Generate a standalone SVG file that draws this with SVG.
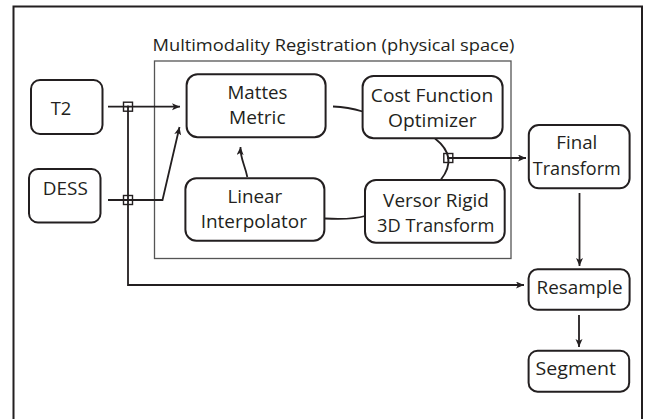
<svg xmlns="http://www.w3.org/2000/svg" width="646" height="419" viewBox="0 0 646 419">
<style>
.box{fill:#fff;stroke:#231f20;stroke-width:2}
.t{font-family:"Open Sans","Liberation Sans",sans-serif;font-size:17.5px;fill:#231f20;text-anchor:middle}
.title{font-family:"Open Sans","Liberation Sans",sans-serif;font-size:16px;fill:#231f20}
.c{fill:none;stroke:#231f20;stroke-width:1.8}
.j{fill:none;stroke:#231f20;stroke-width:1.4}
</style>
<defs>
<marker id="ah" markerUnits="userSpaceOnUse" markerWidth="10" markerHeight="8" refX="8" refY="3.5" orient="auto">
<path d="M0,0 L8,3.5 L0,7 L2,3.5 z" fill="#231f20"/>
</marker>
</defs>
<rect width="646" height="419" fill="#fff"/>
<path d="M13.5,419 V6.5 H642 V419" fill="none" stroke="#231f20" stroke-width="2"/>
<g id="registration">
<rect x="154.5" y="61" width="356.5" height="197.5" fill="none" stroke="#555" stroke-width="1.3"/>
<text class="title" x="152.5" y="50.5" textLength="362" lengthAdjust="spacingAndGlyphs">Multimodality Registration (physical space)</text>
</g>
<g id="connectors">
<path class="c" d="M108,106.7 H180" marker-end="url(#ah)"/>
<path class="c" d="M108,200 H162.5 L179.5,127" marker-end="url(#ah)"/>
<path class="c" d="M128,106.7 V285 H524" marker-end="url(#ah)"/>
<path class="c" d="M579.5,193 V266" marker-end="url(#ah)"/>
<path class="c" d="M579,315 V347" marker-end="url(#ah)"/>
<path class="c" d="M333,106.5 Q348,107 362.6,111.5"/>
<path class="c" d="M435,138.5 Q458.6,157 441,179.5"/>
<path class="c" d="M448.3,158 H526" marker-end="url(#ah)"/>
<path class="c" d="M325,218.5 C345,219.5 355,219 365,216"/>
<path class="c" d="M247.3,177 C245,165 240,158 240.5,147" marker-end="url(#ah)"/>
<rect class="j" x="123.5" y="102.2" width="9" height="9"/>
<circle cx="128" cy="106.7" r="1.3" fill="#231f20"/>
<rect class="j" x="123.5" y="195.5" width="9" height="9"/>
<circle cx="128" cy="200" r="1.3" fill="#231f20"/>
<rect class="j" x="443.8" y="153.5" width="9" height="9"/>
<circle cx="448.3" cy="158" r="1.3" fill="#231f20"/>
</g>
<g id="t2">
<rect class="box" x="31" y="80" width="71.5" height="54" rx="9"/>
<text class="t" x="61" y="115" textLength="20.6" lengthAdjust="spacingAndGlyphs">T2</text>
</g>
<g id="dess">
<rect class="box" x="29" y="169" width="71.5" height="53.5" rx="9"/>
<text class="t" x="65.3" y="195" textLength="45" lengthAdjust="spacingAndGlyphs">DESS</text>
</g>
<g id="mattes">
<rect class="box" x="186.6" y="74.3" width="139" height="63" rx="11"/>
<text class="t" x="257.5" y="99.3" textLength="60" lengthAdjust="spacingAndGlyphs">Mattes</text>
<text class="t" x="257.3" y="124" textLength="56.5" lengthAdjust="spacingAndGlyphs">Metric</text>
</g>
<g id="optimizer">
<rect class="box" x="362.6" y="76" width="140" height="62.3" rx="11"/>
<text class="t" x="432" y="101.7" textLength="122.4" lengthAdjust="spacingAndGlyphs">Cost Function</text>
<text class="t" x="432.4" y="127" textLength="88.6" lengthAdjust="spacingAndGlyphs">Optimizer</text>
</g>
<g id="interpolator">
<rect class="box" x="185.4" y="178.3" width="139" height="62.4" rx="11"/>
<text class="t" x="254.8" y="203.3" textLength="54.8" lengthAdjust="spacingAndGlyphs">Linear</text>
<text class="t" x="253.8" y="228.3" textLength="106.3" lengthAdjust="spacingAndGlyphs">Interpolator</text>
</g>
<g id="transform3d">
<rect class="box" x="365" y="180" width="139.7" height="62.7" rx="11"/>
<text class="t" x="436" y="206.7" textLength="105.8" lengthAdjust="spacingAndGlyphs">Versor Rigid</text>
<text class="t" x="435.7" y="232.3" textLength="117.4" lengthAdjust="spacingAndGlyphs">3D Transform</text>
</g>
<g id="final">
<rect class="box" x="528.8" y="125" width="100.8" height="63.3" rx="10"/>
<text class="t" x="576.8" y="149.3" textLength="41" lengthAdjust="spacingAndGlyphs">Final</text>
<text class="t" x="576.8" y="175" textLength="88" lengthAdjust="spacingAndGlyphs">Transform</text>
</g>
<g id="resample">
<rect class="box" x="528.6" y="269.3" width="101" height="40.5" rx="9"/>
<text class="t" x="579.5" y="294.3" textLength="86" lengthAdjust="spacingAndGlyphs">Resample</text>
</g>
<g id="segment">
<rect class="box" x="528.6" y="350.7" width="100.6" height="41" rx="9"/>
<text class="t" x="575.8" y="374.5" textLength="80.4" lengthAdjust="spacingAndGlyphs">Segment</text>
</g>
</svg>
